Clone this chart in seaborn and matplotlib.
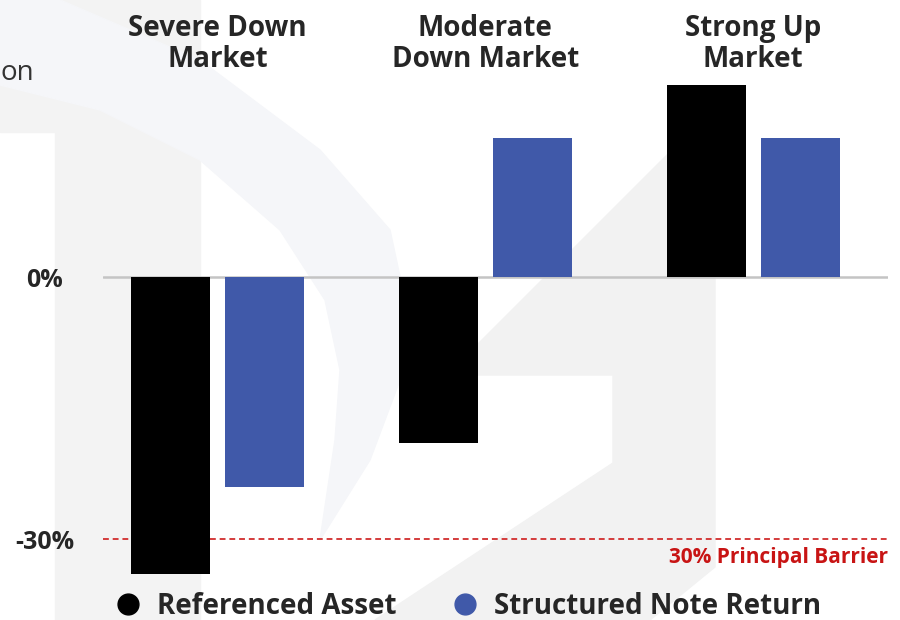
import pandas as pd
import matplotlib.pyplot as plt
import seaborn as sns
from matplotlib.patches import Polygon
from matplotlib.lines import Line2D

# данные
scenarios = ["Severe Down\nMarket", "Moderate\nDown Market", "Strong Up\nMarket"]
series = ["Referenced Asset", "Structured Note Return"]
asset_returns = [-34, -19, 22]
note_returns = [-24, 16, 16]
barrier = -30
barrier_label = "30% Principal Barrier"
ytick_values = [0, -30]
ytick_labels = ["0%", "-30%"]
colors = ["#000000", "#4059a9"]

df = pd.DataFrame({
    "scenario": scenarios * 2,
    "series": [series[0]] * 3 + [series[1]] * 3,
    "value": asset_returns + note_returns,
})

sns.set_style("white")
plt.rcParams['font.family'] = ['Open Sans', 'DejaVu Sans']

W, H = 900, 620
fig = plt.figure(figsize=(9, 6.2), dpi=100)
fig.patch.set_facecolor("white")


def px(points):
    return [(x / W, 1 - y / H) for x, y in points]


# фоновый водяной знак
fig.add_artist(Polygon(px([(0, 0), (200, 0), (200, 620), (55, 620), (55, 132), (0, 132)]),
                       closed=True, transform=fig.transFigure, color="#f3f3f3", zorder=-10))
fig.add_artist(Polygon(px([(60, 0), (200, 60), (320, 150), (390, 230), (405, 300), (400, 380),
                           (370, 460), (320, 540), (335, 440), (340, 370), (325, 300),
                           (280, 230), (200, 160), (100, 110), (0, 85), (0, 0)]),
                       closed=True, transform=fig.transFigure, color="#f5f6f9", zorder=-9))
fig.add_artist(Polygon(px([(672, 150), (715, 150), (715, 567), (650, 620), (375, 620),
                           (613, 463), (613, 375), (447, 375)]),
                       closed=True, transform=fig.transFigure, color="#f2f2f2", zorder=-9))

ax = fig.add_axes([103 / W, 1 - 595 / H, 785 / W, 515 / H])
ax.set_facecolor("none")

sns.barplot(data=df, x="scenario", y="value", hue="series", palette=colors, saturation=1,
            width=0.702, gap=0.154, linewidth=0, legend=False, ax=ax, zorder=3)

ax.axhline(0, color="#c4c4c4", lw=1.8, zorder=2)
ax.axhline(barrier, color="#d43c3c", lw=1.4, ls=(0, (3, 2)), zorder=2)
ax.text(2.5028, -32.1, barrier_label, ha="right", va="center", color="#c81414",
        fontsize=15, fontweight="bold")

ax.set_xlim(-0.4274, 2.5028)
ax.set_ylim(-36.38, 22.59)
sns.despine(ax=ax, left=True, bottom=True)

ax.xaxis.tick_top()
ax.tick_params(axis="x", length=0, pad=4, labelsize=20)
for lab in ax.get_xticklabels():
    lab.set_fontweight("bold")
    lab.set_linespacing(1.1)

ax.set_yticks(ytick_values)
ax.set_yticklabels(ytick_labels)
ax.tick_params(axis="y", length=0, pad=41.8, labelsize=18)
for lab in ax.get_yticklabels():
    lab.set_ha("center")
    lab.set_fontweight("bold")
ax.set_xlabel("")
ax.set_ylabel("")

handles = [Line2D([0], [0], marker="o", color="none", markerfacecolor=c,
                  markeredgecolor=c, markersize=15) for c in colors]
fig.legend(handles, series, loc="center", bbox_to_anchor=(0.515, 1 - 606 / H), ncol=2,
           frameon=False, handletextpad=0.25, columnspacing=1.65, handlelength=1.6,
           prop={"weight": "bold", "size": 20})

# обрезанный текст слева
fig.text(0, 1 - 73 / H, "on", ha="left", va="center", fontsize=20, color="#333333")

fig.savefig("out.png", dpi=100)
